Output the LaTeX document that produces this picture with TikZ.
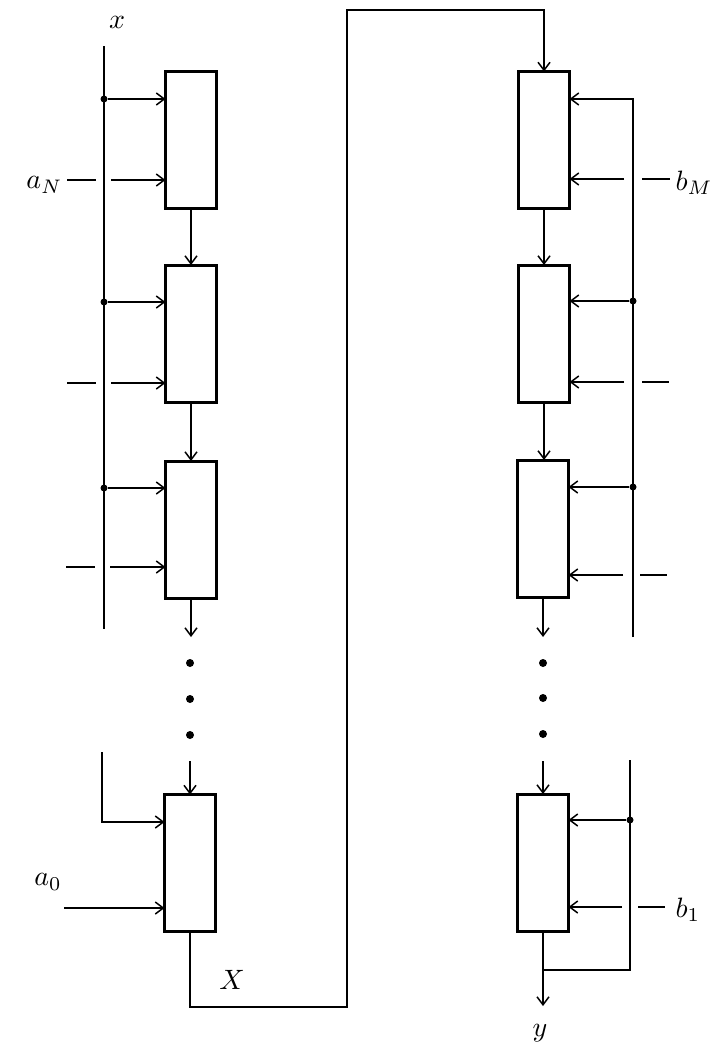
\documentclass[tikz,border=0pt]{standalone}
\usetikzlibrary{arrows.meta}
\begin{document}
\begin{tikzpicture}[x=1pt,y=-1pt,
  blk/.style={draw, line width=3pt, minimum width=51pt, minimum height=137pt, inner sep=0pt, outer sep=0pt},
  wire/.style={line width=1.5pt},
  arr/.style={wire, -{Straight Barb[length=8pt,width=12pt]}},
  jdot/.style={circle, fill, inner sep=0pt, minimum size=7pt},
  ell/.style={circle, fill, inner sep=0pt, minimum size=8pt},
  lbl/.style={scale=2.8, inner sep=0pt}]
\useasboundingbox (0,0) rectangle (722,1044);
% boxes
\node[blk] (L1) at (191,140) {};
\node[blk] (L2) at (191,333.5) {};
\node[blk] (L3) at (191,529.5) {};
\node[blk] (L4) at (190,863) {};
\node[blk] (R1) at (544,140) {};
\node[blk] (R2) at (544,333.5) {};
\node[blk] (R3) at (543,528.5) {};
\node[blk] (R4) at (543,862.5) {};
% left chain
\draw[arr] (L1.south) -- (L2.north);
\draw[arr] (L2.south) -- (L3.north);
\coordinate (Lg1) at (191,637);
\coordinate (Lg2) at (190,761);
\draw[arr] (L3.south) -- (Lg1);
\node[ell] (Ld1) at (190,663) {};
\node[ell] (Ld2) at (190,699) {};
\node[ell] (Ld3) at (190,735) {};
\draw[arr] (Lg2) -- (L4.north);
% right chain
\draw[arr] (R1.south) -- (R2.north);
\draw[arr] (R2.south) -- (R2.south |- R3.north);
\coordinate (Rg1) at (543,637);
\coordinate (Rg2) at (543,761);
\draw[arr] (R3.south) -- (Rg1);
\node[ell] (Rd1) at (543,663) {};
\node[ell] (Rd2) at (543,698) {};
\node[ell] (Rd3) at (543,734) {};
\draw[arr] (Rg2) -- (R4.north);
% left x bus
\coordinate (xtop) at (104,46);
\coordinate (xbot) at (104,629);
\draw[wire] (xtop) -- (xbot);
\node[jdot] (xd1) at (104,99) {};
\node[jdot] (xd2) at (104,302) {};
\node[jdot] (xd3) at (104,488) {};
\draw[arr] (xd1) -- (xd1 -| L1.west);
\draw[arr] (xd2) -- (xd2 -| L2.west);
\draw[arr] (xd3) -- (xd3 -| L3.west);
\coordinate (xb1) at (102,752);
\coordinate (xb2) at (102,822);
\draw[arr] (xb1) -- (xb2) -- (xb2 -| L4.west);
% left a inputs
\coordinate (a1s) at (67,180); \coordinate (a1e) at (96,180); \coordinate (a1a) at (111,180);
\draw[wire] (a1s) -- (a1e); \draw[arr] (a1a) -- (a1a -| L1.west);
\coordinate (a2s) at (67,383); \coordinate (a2e) at (96,383); \coordinate (a2a) at (111,383);
\draw[wire] (a2s) -- (a2e); \draw[arr] (a2a) -- (a2a -| L2.west);
\coordinate (a3s) at (66,567); \coordinate (a3e) at (95,567); \coordinate (a3a) at (110,567);
\draw[wire] (a3s) -- (a3e); \draw[arr] (a3a) -- (a3a -| L3.west);
\coordinate (a0s) at (64,908);
\draw[arr] (a0s) -- (a0s -| L4.west);
% X connection
\coordinate (Xb) at (347,1007);
\coordinate (Xt) at (347,10);
\draw[arr] (L4.south) |- (Xb) -- (Xt) -| (R1.north);
% right feedback bus
\coordinate (bt) at (633,99);
\coordinate (bb) at (633,637);
\draw[arr] (bb) -- (bt) -- (bt -| R1.east);
\node[jdot] (bd2) at (633,301) {};
\node[jdot] (bd3) at (633,487) {};
\draw[arr] (bd2) -- (bd2 -| R2.east);
\draw[arr] (bd3) -- (bd3 -| R3.east);
\coordinate (bl1) at (630,760);
\node[jdot] (bd4) at (630,820) {};
\coordinate (bl2) at (630,970);
\draw[wire] (bl1) -- (bl2) -- (bl2 -| R4.south);
\draw[arr] (bd4) -- (bd4 -| R4.east);
\coordinate (yend) at (543,1006);
\draw[arr] (R4.south) -- (yend);
% right b inputs
\coordinate (b1a) at (624,179); \coordinate (b1s) at (642,179); \coordinate (b1e) at (670,179);
\draw[wire] (b1s) -- (b1e); \draw[arr] (b1a) -- (b1a -| R1.east);
\coordinate (b2a) at (624,382); \coordinate (b2s) at (642,382); \coordinate (b2e) at (669,382);
\draw[wire] (b2s) -- (b2e); \draw[arr] (b2a) -- (b2a -| R2.east);
\coordinate (b3a) at (623,575); \coordinate (b3s) at (640,575); \coordinate (b3e) at (667,575);
\draw[wire] (b3s) -- (b3e); \draw[arr] (b3a) -- (b3a -| R3.east);
\coordinate (b4a) at (622,907); \coordinate (b4s) at (638,907); \coordinate (b4e) at (665,907);
\draw[wire] (b4s) -- (b4e); \draw[arr] (b4a) -- (b4a -| R4.east);
% labels
\node[lbl] (lx) at (117,22) {$x$};
\node[lbl, anchor=east] (laN) at (63,185) {$a_N$};
\node[lbl] (la0) at (48,882) {$a_0$};
\node[lbl] (lX) at (232,980) {$X$};
\node[lbl, anchor=west] (lbM) at (675,183) {$b_M$};
\node[lbl, anchor=west] (lb1) at (675,910) {$b_1$};
\node[lbl] (ly) at (540,1033) {$y$};
\end{tikzpicture}
\end{document}
